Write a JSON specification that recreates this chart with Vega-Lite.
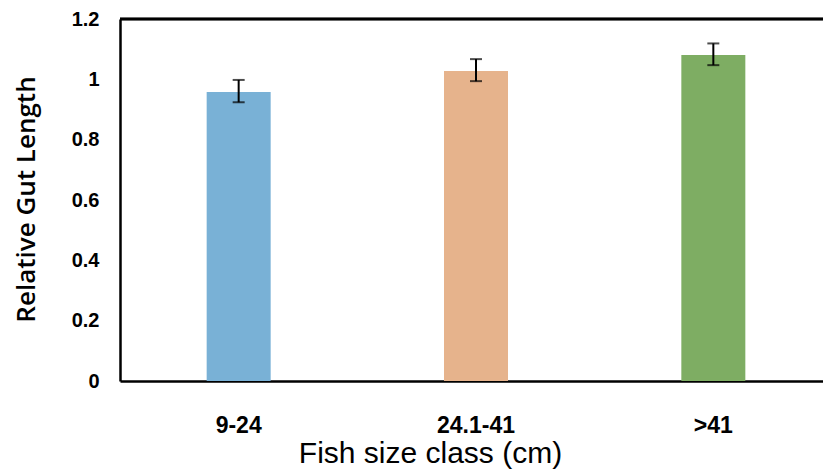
{
  "$schema": "https://vega.github.io/schema/vega-lite/v6.json",
  "width": 703,
  "height": 362,
  "autosize": "none",
  "padding": {"left": 120, "top": 19, "right": 0, "bottom": 88},
  "background": "white",
  "config": {"view": {"stroke": null}},
  "data": {"values": [
    {"cls": "9-24", "value": 0.958, "lo": 0.924, "hi": 0.998, "color": "#79B1D6"},
    {"cls": "24.1-41", "value": 1.028, "lo": 0.994, "hi": 1.067, "color": "#E6B38C"},
    {"cls": ">41", "value": 1.081, "lo": 1.047, "hi": 1.119, "color": "#7EAD63"}
  ]},
  "encoding": {
    "x": {"field": "cls", "type": "nominal", "sort": null,
      "scale": {"range": [0, 712], "paddingInner": 0, "paddingOuter": 0},
      "axis": {"title": "Fish size class (cm)", "labelAngle": 0, "labelFont": "Liberation Sans", "labelFontWeight": "bold", "labelFontSize": 23, "labelColor": "black", "labelPadding": 33, "ticks": false, "domainColor": "black", "domainWidth": 2.5, "titleFont": "Liberation Sans", "titleFontSize": 30, "titleFontWeight": "normal", "titleColor": "black", "titlePadding": 1, "titleX": 310}}
  },
  "layer": [
    {
      "mark": {"type": "bar", "size": 64},
      "encoding": {
        "y": {"field": "value", "type": "quantitative", "title": "Relative Gut Length",
          "scale": {"domain": [0, 1.2]},
          "axis": {"title": "Relative Gut Length", "values": [0, 0.2, 0.4, 0.6, 0.8, 1, 1.2], "format": "~g", "grid": false, "ticks": false, "labelFont": "Liberation Sans", "labelFontWeight": "bold", "labelFontSize": 20, "labelColor": "black", "labelPadding": 21, "domainColor": "black", "domainWidth": 2.5, "titleFont": "Open Sans", "titleFontSize": 26, "titleFontWeight": 600, "titleColor": "black", "titlePadding": 32, "titleY": 180}},
        "color": {"field": "color", "type": "nominal", "scale": null, "legend": null}
      }
    },
    {
      "mark": {"type": "errorbar", "ticks": {"size": 12, "thickness": 2, "color": "black"}, "rule": {"strokeWidth": 2, "color": "black"}},
      "encoding": {
        "y": {"field": "lo", "type": "quantitative", "title": "Relative Gut Length"},
        "y2": {"field": "hi"}
      }
    },
    {
      "mark": {"type": "rule", "color": "black", "strokeWidth": 2.5},
      "encoding": {"y": {"datum": 1.2}, "x": {"value": 0}, "x2": {"value": 703}}
    }
  ]
}
